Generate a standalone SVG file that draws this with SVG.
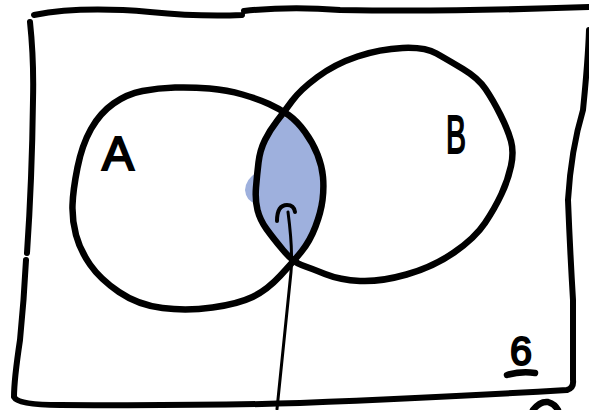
<svg xmlns="http://www.w3.org/2000/svg" width="589" height="410" viewBox="0 0 589 410">
<style>
.ink{fill:none;stroke:#000;stroke-linecap:round;stroke-linejoin:round}
.thick{stroke-width:6}
.med{stroke-width:6.5}
.thin{stroke-width:3}
.lbl{font-family:"Liberation Sans",Arial,sans-serif;fill:#000;stroke:#000;stroke-width:2}
</style>
<rect width="589" height="410" fill="#fff"/>
<g id="frame">
<path class="ink thick" d="M34,15 Q80,6 150,12 Q200,17 242,15 M244,11 Q290,6 340,10 Q450,12 589,7"/>
<path class="ink thick" d="M30,22 Q34,60 33,100 Q32,180 27,253 M26,260 Q24,300 20,340 Q14,380 14,397 Q18,405 60,405 Q200,406 300,403 Q450,397 567,390 Q574,388 573,380 L573,300 Q570,250 568,200 Q571,150 583,110 Q588,60 589,30"/>
<path class="ink med" d="M533,410 Q540,401 548,402 Q555,404 558,410"/>
</g>
<g id="intersection">
<path fill="#9EB0DD" d="M283,116 L270,132 L262,150 L259,175 L258,200 L263,220 L275,237 L293,258 L308,240 L318,212 L321,188 L319,166 L311,145 L297,124 Z"/>
<path fill="#9EB0DD" d="M258,172 Q246,178 245,190 Q246,202 258,204 Z"/>
</g>
<g id="circleA">
<path class="ink med" d="M280,276 Q293,262 301.5,251.5 Q310,241 315.5,226.5 Q321,212 322.5,200 Q324,188 323,177 Q322,166 317.5,154.5 Q313,143 305,132 Q297,121 288.5,115 Q280,109 269,104 Q258,99 242.5,94.5 Q227,90 209.5,88.5 Q192,87 175,87.5 Q158,88 142.5,91 Q127,94 113.5,103.5 Q100,113 91,129 Q82,145 77.5,167.5 Q73,190 72.5,205 Q72,220 76,235 Q80,250 90,264.5 Q100,279 119,292 Q138,305 162.5,308 Q187,311 212.5,307.5 Q238,304 252.5,297 Q267,290 280,276 Z"/>
</g>
<g id="circleB">
<path class="ink med" d="M301.5,265 Q293,262 283,250 Q273,238 266.5,229 Q260,220 257.5,210 Q255,200 256,187.5 Q257,175 258.5,162.5 Q260,150 265,140 Q270,130 277,121 Q284,112 292,101 Q300,90 317.5,77 Q335,64 357.5,56.5 Q380,49 402.5,48 Q425,47 436.5,53.5 Q448,60 463,69 Q478,78 485.5,89 Q493,100 500.5,115 Q508,130 511,141 Q514,152 511,166 Q508,180 501.5,194 Q495,208 485,223 Q475,238 454,252.5 Q433,267 406.5,274.5 Q380,282 360,281 Q340,280 325,274 Q310,268 301.5,265 Z"/>
</g>
<g id="connectors">
<path class="ink thin" d="M288,212 Q293,250 291,272 L277,409"/>
<path class="ink" stroke-width="4" d="M277,221 Q277,205 287,205 Q294,205 295,212"/>
</g>
<g id="labelA"><text class="lbl" x="118" y="170" font-size="48" text-anchor="middle">A</text></g>
<g id="labelB"><text class="lbl" x="446" y="153" font-size="54" textLength="20" lengthAdjust="spacingAndGlyphs">B</text></g>
<g id="label6">
<text class="lbl" x="521" y="365" font-size="40" text-anchor="middle" textLength="22" lengthAdjust="spacingAndGlyphs">6</text>
<path class="ink med" d="M507,375 Q521,371 535,373"/>
</g>
</svg>
